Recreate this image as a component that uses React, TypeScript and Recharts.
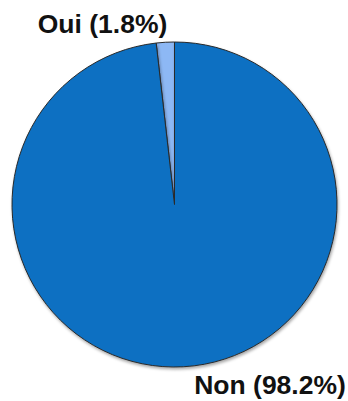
import React from "react";
import { PieChart, Pie, Cell } from "recharts";

const categories = ["Oui", "Non"];
const values = [1.8, 98.2];
const colors = ["#8db8f5", "#0a6fc2"];

const data = categories.map((name, i) => ({ name, value: values[i] }));

const RADIAN = Math.PI / 180;

const renderLabel = (props: any) => {
  const { cx, cy, midAngle, outerRadius, index } = props;
  const s = Math.sin(midAngle * RADIAN);
  const c = Math.cos(midAngle * RADIAN);
  const r = outerRadius + 18;
  let x = cx + r * c;
  const y = cy - r * s;
  const anchor = x >= cx ? "start" : "end";
  x += anchor === "start" ? 9.5 : 3;
  return (
    <text
      x={x}
      y={y}
      textAnchor={anchor}
      dominantBaseline="central"
      fontFamily="'Liberation Sans', Arial, sans-serif"
      fontWeight="bold"
      fontSize={26.5}
      fill="#111"
    >
      {`${categories[index]} (${values[index]}%)`}
    </text>
  );
};

export default function App() {
  return (
    <div style={{ position: "absolute", left: 0, top: 0, width: 348, height: 401, background: "#fff" }}>
      <PieChart width={348} height={401} margin={{ top: 0, right: 0, bottom: 0, left: 0 }}>
        <defs>
          <filter id="pieShadow" x="-10%" y="-10%" width="120%" height="120%">
            <feDropShadow dx="1" dy="2" stdDeviation="1.5" floodColor="#000" floodOpacity="0.35" />
          </filter>
        </defs>
        <Pie
          data={data}
          dataKey="value"
          nameKey="name"
          cx={174.5}
          cy={204.5}
          outerRadius={162.5}
          startAngle={90}
          endAngle={450}
          stroke="#2a2a2a"
          strokeWidth={1}
          label={renderLabel}
          labelLine={false}
          isAnimationActive={false}
          style={{ filter: "url(#pieShadow)" }}
        >
          {data.map((d, i) => (
            <Cell key={d.name} fill={colors[i]} />
          ))}
        </Pie>
      </PieChart>
    </div>
  );
}
